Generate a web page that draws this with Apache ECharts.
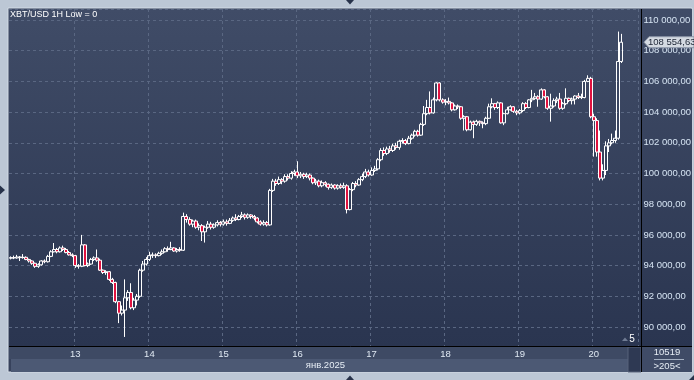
<!DOCTYPE html>
<html><head><meta charset="utf-8">
<script src="https://cdn.jsdelivr.net/npm/echarts@6/dist/echarts.min.js"></script>
<style>html,body{margin:0;padding:0;background:#bcc7d5}#c{width:694px;height:380px}</style>
</head><body><div id="c"></div>
<script>
// ---- data ----
const startDay = 12, startHour = 3;      // first candle: 12 Jan 03:00
const emptySlots = 5;                    // empty bars on the right
const dayLabels = ['13','14','15','16','17','18','19','20'];
const monthLabel = 'янв.2025';
const titleText = 'XBT/USD 1H Low = 0';
const lastPrice = 108554.63;
const footerTop = '10519';
const footerBottom = '>205<';
const shiftText = '5';
// [open, close, low, high]
const candles = [
[94480,94520,94400,94600],[94520,94500,94420,94650],[94500,94560,94450,94700],[94560,94520,94300,94620],
[94520,94540,94450,94750],[94540,94400,94350,94600],[94400,94300,94200,94450],[94300,94150,94050,94350],
[94150,93950,93850,94200],[93950,94050,93850,94150],[94050,94300,94000,94350],[94300,94250,94150,94400],
[94250,94600,94200,94700],[94600,94900,94550,95000],[94900,95050,94850,95470],[95050,94900,94800,95150],
[94900,95150,94850,95250],[95150,95050,94950,95300],[95050,94850,94800,95150],[94850,94700,94650,94950],
[94700,94650,94550,94800],[94650,94000,93850,94700],[94000,93950,93800,94100],[93950,95350,93900,96000],
[95350,94000,93950,95400],[94000,94100,93900,94200],[94100,94400,94050,94500],[94400,94500,94300,94600],
[94500,94350,94250,95050],[94350,93700,93650,94450],[93700,93550,93450,93750],[93550,93600,93400,93700],
[93600,93100,93000,93650],[93100,92900,92800,93200],[92900,91650,91550,92950],[91650,90900,90250,91700],
[90900,91100,90750,91400],[91100,91900,89350,93100],[91900,92250,91700,92400],[92250,91250,91150,92850],
[91250,91750,91100,91900],[91750,92000,91400,92150],[92000,93700,91900,93800],[93700,94100,93600,94300],
[94100,94400,94000,94550],[94400,94650,94300,94900],[94650,94700,94500,94850],[94700,94650,94500,94800],
[94650,94800,94600,94900],[94800,94900,94700,95050],[94900,95100,94850,95200],[95100,95050,94900,95250],
[95050,95150,95000,95550],[95150,94950,94900,95200],[94950,95050,94850,95150],[95050,95000,94900,95200],
[95000,97200,94950,97450],[97200,97000,96800,97350],[97000,96700,96600,97150],[96700,96900,96500,97000],
[96900,96500,96400,97000],[96500,96600,96300,96750],[96600,96200,95600,96700],[96200,96500,95500,96600],
[96500,96700,96400,96900],[96700,96500,96350,96850],[96500,96650,96400,96750],[96650,96800,96550,96950],
[96800,96700,96550,96900],[96700,96850,96600,97000],[96850,96750,96600,97000],[96750,96950,96700,97100],
[96950,97100,96850,97200],[97100,97000,96900,97350],[97000,97200,96950,97300],[97200,97300,97100,97500],
[97300,97150,97000,97400],[97150,97300,97050,97400],[97300,97200,97050,97350],[97200,97100,96950,97300],
[97100,96850,96750,97150],[96850,96700,96600,96950],[96700,96800,96600,96950],[96800,96650,96550,96900],
[96650,98900,96600,99000],[98900,99500,98800,99650],[99500,99350,99200,99650],[99350,99600,99250,99800],
[99600,99500,99300,99700],[99500,99800,99400,99950],[99800,99700,99550,99950],[99700,100000,99600,100150],
[100000,100100,99850,100250],[100100,99850,99700,100800],[99850,99950,99700,100100],[99950,99800,99650,100050],
[99800,99900,99700,100050],[99900,99700,99550,100000],[99700,99400,99300,99750],[99400,99500,99250,99650],
[99500,99200,99100,99600],[99200,99400,99100,99550],[99400,99300,99150,99500],[99300,99100,98950,99350],
[99100,99250,99000,99350],[99250,99050,98950,99300],[99050,99200,98950,99300],[99200,99100,99000,99350],
[99100,99200,99000,99400],[99200,97650,97400,99300],[97650,98950,97600,99050],[98950,99350,98850,99450],
[99350,99250,99100,99500],[99250,99600,99200,99700],[99600,99800,99500,100000],[99800,100100,99700,100300],
[100100,99900,99800,100250],[99900,100200,99850,100400],[100200,100300,100100,100500],[100300,100900,100200,101000],
[100900,101500,100800,101650],[101500,101300,101150,101700],[101300,101600,101200,101750],[101600,101500,101350,101800],
[101500,101800,101400,101950],[101800,101700,101550,102000],[101700,102100,101550,102200],[102100,102150,101950,102300],
[102150,101950,101850,102250],[101950,102300,101900,102450],[102300,102500,102200,102600],[102500,102750,102400,102850],
[102750,102500,102400,102850],[102500,103200,102450,103300],[103200,103900,103100,104400],[103900,104300,103800,104800],
[104300,103950,103850,105350],[103950,104800,103900,104950],[104800,105900,104700,105950],[105900,104800,104700,105950],
[104800,104650,104550,104900],[104650,104700,104450,104850],[104700,104600,104500,104950],[104600,104150,104050,104650],
[104150,104400,104100,104500],[104400,104350,104200,104500],[104350,103600,103500,104400],[103600,103700,102800,103800],
[103700,102850,102750,103750],[102850,103350,102800,103450],[103350,103200,102300,103450],[103200,103400,103100,103500],
[103400,103300,103100,103450],[103300,103250,102950,103400],[103250,103600,103150,103700],[103600,104350,103550,104550],
[104350,104550,104250,104900],[104550,104300,104150,104600],[104300,104600,104200,104700],[104600,103300,103250,104650],
[103300,103900,103150,103950],[103900,104150,103850,104350],[104150,104350,104100,104450],[104350,104050,103950,104400],
[104050,103950,103800,104150],[103950,104100,103850,104200],[104100,104550,104000,104650],[104550,104300,104200,104650],
[104300,104800,104250,104850],[104800,104900,104650,105450],[104900,105000,104800,105250],[105000,104850,104350,105100],
[104850,105450,104800,105550],[105450,105000,104900,105500],[105000,104250,104150,105050],[104250,104400,103380,105200],
[104400,104750,104300,104900],[104750,104850,104600,105000],[104850,104250,104150,105250],[104250,104550,104150,104650],
[104550,104900,104450,105550],[104900,104750,104650,104950],[104750,104850,104500,104950],[104850,105050,104500,105100],
[105050,104950,104850,105250],[104950,105000,104850,105200],[104950,106000,104900,106100],[106000,106200,105950,106400],
[106200,103700,103600,106300],[103700,103450,101100,103900],[103450,101400,101100,103600],[101400,99700,99550,102800],
[99700,100200,99550,100600],[100200,101800,99900,102100],[101800,102000,101400,102250],[102000,102150,101900,102600],
[102150,102300,102000,102800],[102300,107300,102200,109250],[107300,108555,107200,109100]
];

// ---- build ----
const categories = [];
for (let i = 0; i < candles.length + emptySlots; i++) {
  const t = startHour + i;
  const d = startDay + Math.floor(t / 24);
  const h = t % 24;
  categories.push(d + ' ' + String(h).padStart(2, '0') + ':00');
}
const isDayStart = (idx) => {
  const c = categories[idx];
  return !!c && c.endsWith(' 00:00') && dayLabels.includes(c.split(' ')[0]);
};
const fmtNum = (v) => {
  const p = v.toFixed(2).split('.');
  return p[0].replace(/\B(?=(\d{3})+(?!\d))/g, ' ') + ',' + p[1];
};

const FONT = 'Liberation Sans';
const L = 9, R = 641, T = 9, B = 346;
const chart = echarts.init(document.getElementById('c'), null, {renderer: 'canvas'});
const bgGrad = new echarts.graphic.LinearGradient(0, 0, 0, 1, [
  {offset: 0, color: '#404c67'}, {offset: 1, color: '#2a3550'}]);

chart.setOption({
  animation: false,
  backgroundColor: '#bcc7d5',
  textStyle: {fontFamily: FONT},
  grid: {left: L, right: 694 - R, top: T, bottom: 380 - B, containLabel: false},
  xAxis: {
    type: 'category', data: categories, boundaryGap: true,
    axisLine: {show: false}, axisTick: {show: false},
    axisLabel: {interval: (i) => isDayStart(i), formatter: (v) => v.split(' ')[0],
      color: '#dfe8f2', fontSize: 9.5, margin: 3},
    splitLine: {show: true, interval: (i) => isDayStart(i),
      lineStyle: {color: '#5a6782', type: [3, 3], width: 1}}
  },
  yAxis: {
    type: 'value', position: 'right', scale: true,
    min: 88760, max: 110720, splitNumber: 11,
    axisLine: {show: false}, axisTick: {show: false},
    axisLabel: {formatter: fmtNum, color: '#d6e4f3', fontSize: 9.5, margin: 5,
      showMinLabel: false, showMaxLabel: false},
    splitLine: {show: true, lineStyle: {color: '#5a6782', type: [3, 3], width: 1}}
  },
  series: [{
    type: 'candlestick', data: candles, barWidth: 3.5,
    itemStyle: {color: 'rgba(0,0,0,0)', color0: '#e0123f', borderColor: '#ffffff',
      borderColor0: '#ffffff', borderWidth: 1}
  }]
});

const yTag = chart.convertToPixel({yAxisIndex: 0}, lastPrice);
const g = [
  {type: 'rect', z: -10, silent: true, shape: {x: 8, y: 8, width: 684, height: 364},
    style: {fill: '#37425c', stroke: '#d3dbe5', lineWidth: 1}},
  {type: 'rect', z: -9, silent: true, shape: {x: L, y: T, width: R - L, height: B - T}, style: {fill: bgGrad}},
  {type: 'rect', z: -9, silent: true, shape: {x: R + 1, y: T, width: 691 - R, height: B - T}, style: {fill: bgGrad}},
  {type: 'rect', z: -9, silent: true, shape: {x: L, y: B + 1, width: R - L, height: 12}, style: {fill: '#3e4a64'}},
  {type: 'rect', z: -9, silent: true, shape: {x: L + 2, y: B + 13, width: R - L - 2, height: 13}, style: {fill: '#4c5974'}},
  {type: 'rect', z: -8, silent: true, shape: {x: 628, y: B + 1, width: R - 628, height: 25}, style: {fill: '#2e3953', stroke: '#56627a', lineWidth: 1}},
  {type: 'rect', z: -9, silent: true, shape: {x: R + 1, y: B + 1, width: 691 - R, height: 25}, style: {fill: '#3f4b66'}},
  {type: 'line', z: 50, silent: true, shape: {x1: R + 0.5, y1: T, x2: R + 0.5, y2: 372}, style: {stroke: '#000', lineWidth: 1}},
  {type: 'line', z: 50, silent: true, shape: {x1: L, y1: B + 0.5, x2: 692, y2: B + 0.5}, style: {stroke: '#000', lineWidth: 1}},
  {type: 'text', z: 60, silent: true, style: {x: 10, y: 10, text: titleText, fill: '#ffffff', font: '9px ' + FONT, textVerticalAlign: 'top'}},
  {type: 'text', z: 60, silent: true, style: {x: 345, y: 365.5, text: monthLabel, fill: '#e6edf5', font: '9.5px ' + FONT, textAlign: 'right', textVerticalAlign: 'middle'}},
  {type: 'polygon', z: 60, silent: true, shape: {points: [[622, 341], [625, 337.5], [628, 341]]}, style: {fill: '#6f7b93'}},
  {type: 'text', z: 60, silent: true, style: {x: 632, y: 339, text: shiftText, fill: '#ffffff', font: '10px ' + FONT, textAlign: 'center', textVerticalAlign: 'middle'}},
  {type: 'text', z: 60, silent: true, style: {x: 667, y: 352.5, text: footerTop, fill: '#e6edf5', font: '9.5px ' + FONT, textAlign: 'center', textVerticalAlign: 'middle'}},
  {type: 'line', z: 60, silent: true, shape: {x1: 654, y1: 359.5, x2: 684, y2: 359.5}, style: {stroke: '#a4b0c2', lineWidth: 1}},
  {type: 'text', z: 60, silent: true, style: {x: 667, y: 366, text: footerBottom, fill: '#e6edf5', font: '9.5px ' + FONT, textAlign: 'center', textVerticalAlign: 'middle'}},
  {type: 'polygon', z: 70, silent: true, shape: {points: [[644, yTag], [649, yTag - 5.5], [694, yTag - 5.5], [694, yTag + 5.5], [649, yTag + 5.5]]},
    style: {fill: '#d4dae2', stroke: '#8c97a8', lineWidth: 1}},
  {type: 'text', z: 71, silent: true, style: {x: 648, y: yTag + 0.5, text: fmtNum(lastPrice), fill: '#1c2434', font: '9.5px ' + FONT, textVerticalAlign: 'middle'}},
  {type: 'polygon', z: 60, silent: true, shape: {points: [[346, 0], [354, 0], [350, 4.5]]}, style: {fill: '#27324a'}},
  {type: 'polygon', z: 60, silent: true, shape: {points: [[0, 185.5], [5, 190], [0, 194.5]]}, style: {fill: '#27324a'}},
  {type: 'polygon', z: 60, silent: true, shape: {points: [[346, 380], [354, 380], [350, 375.5]]}, style: {fill: '#27324a'}},
  {type: 'polygon', z: 60, silent: true, shape: {points: [[694, 375], [694, 380], [689, 380]]}, style: {fill: '#27324a'}}
];
chart.setOption({graphic: g});
</script></body></html>
